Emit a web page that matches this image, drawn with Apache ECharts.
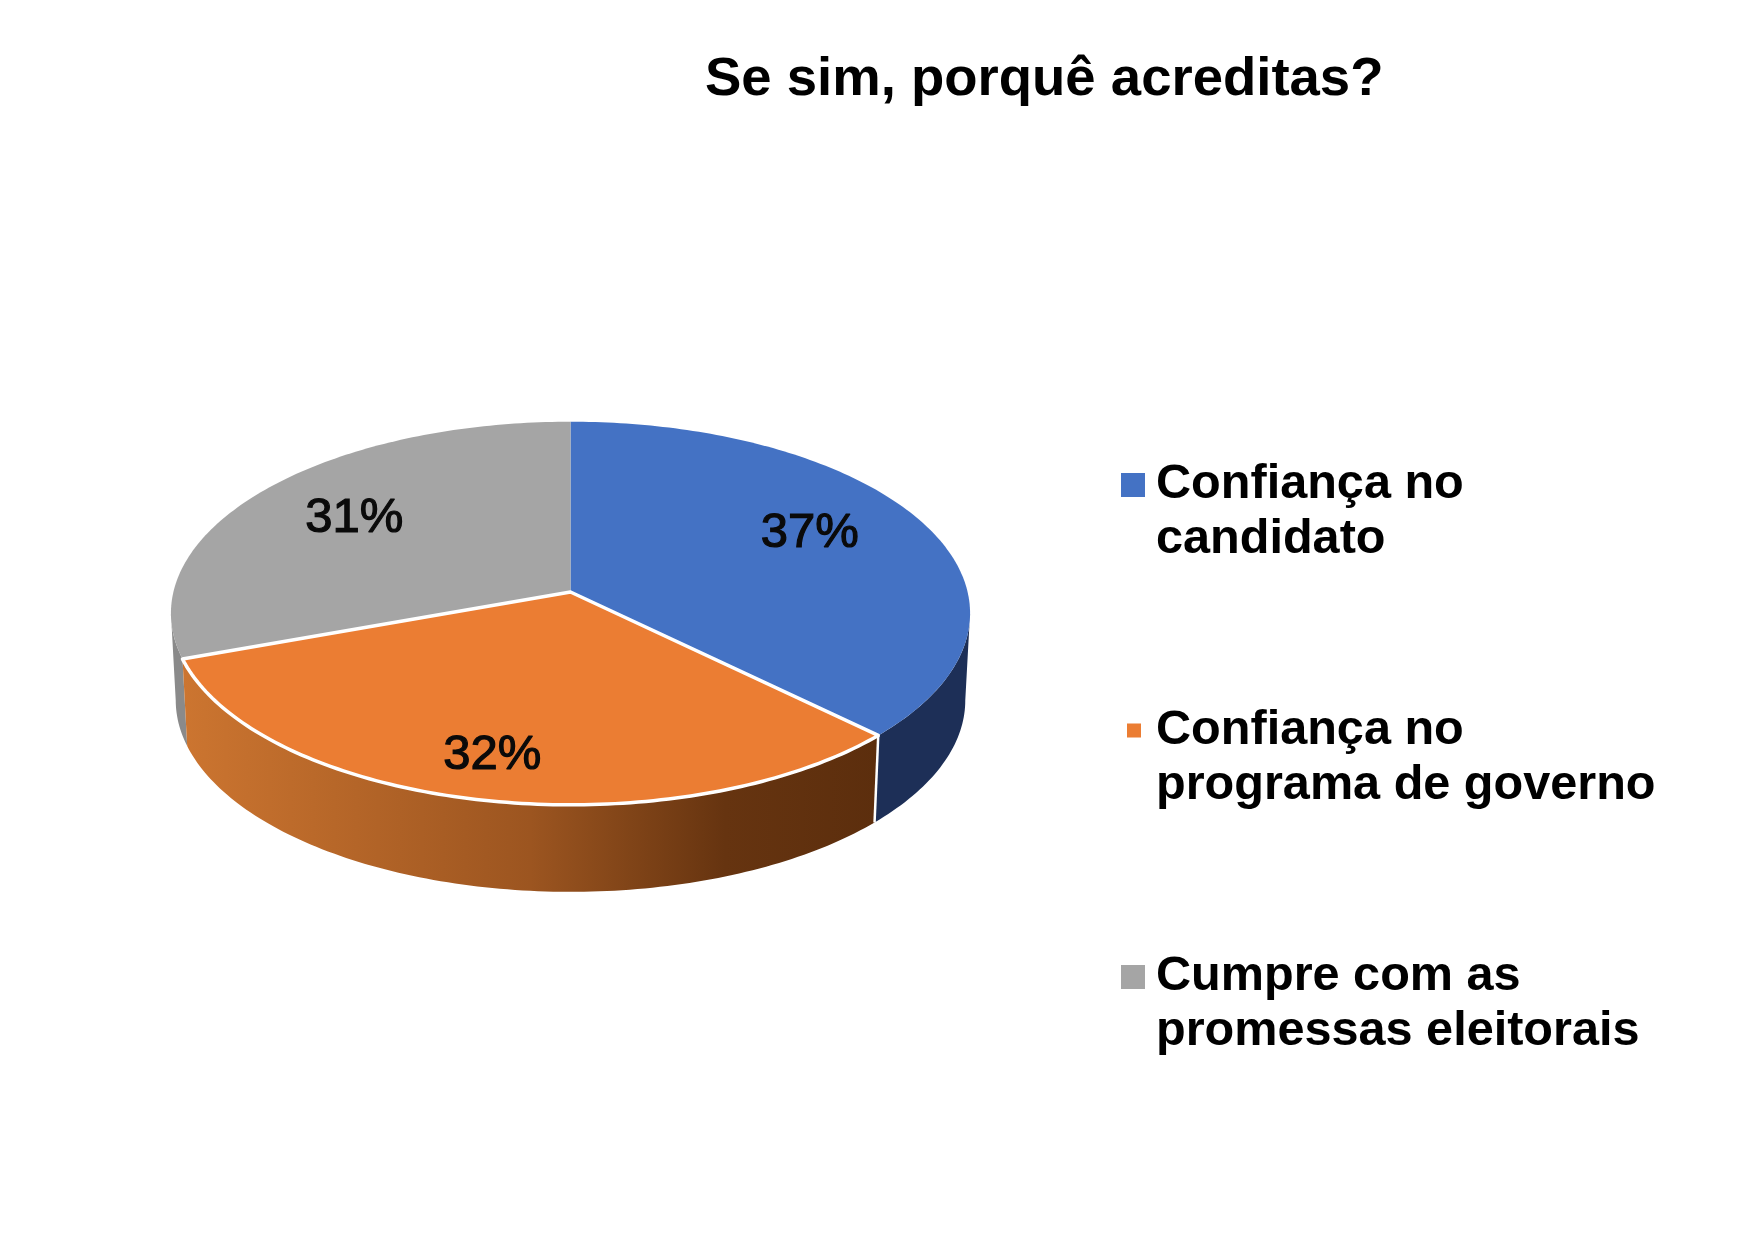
<!DOCTYPE html>
<html>
<head>
<meta charset="utf-8">
<title>Se sim, porquê acreditas?</title>
<script src="https://cdn.jsdelivr.net/npm/echarts@6/dist/echarts.min.js"></script>
<style>
  html, body { margin: 0; background: #fff; }
  #chart { width: 1749px; height: 1241px; }
</style>
</head>
<body>
<div id="chart"></div>
<script>
const chartTitle = 'Se sim, porquê acreditas?';
const categories = ['Confiança no\ncandidato', 'Confiança no\nprograma de governo', 'Cumpre com as\npromessas eleitorais'];
// read from the slice edges, the labels show them rounded
const percentValues = [37.4, 32.2, 30.6];

const topColors = ['#4472C4', '#EB7D33', '#A5A5A5'];
const wallColors = [
  '#1D2F57',
  [[0, '#CC7530'], [0.5, '#9C5520'], [0.78, '#663410'], [1, '#5C2E0D']],
  '#8A8A8A'
];
const fontName = '"Liberation Sans", Arial, sans-serif';

// the pie is a circle seen in perspective, so it is not centred on its ellipse
const pie = { x: 570.5, y: 592, r: 397.1, ry: 189.2, k: 0.111, depth: 87, bottomScale: 0.988 };
// where each percent sits, as a share of the rim point at the mid angle
const labelPull = [[0.682, 0.83], [0.83, 0.79], [0.707, 0.72]];
const legendBoxes = [
  { left: 1121, top: 457.5, size: 24, width: 30 },
  { left: 1127, top: 703, size: 14, width: 24 },
  { left: 1121, top: 949.5, size: 24, width: 30 }
];
const lineHeight = 55;

const total = percentValues.reduce((a, b) => a + b, 0);
// angles where the rim turns back, only the wall between them can be seen
const wallFrom = Math.acos(-pie.k) * 180 / Math.PI;
const wallTo = 360 - wallFrom;

function project(deg, scale, drop) {
  const t = deg * Math.PI / 180;
  const d = 1 + pie.k * Math.cos(t);
  return [
    pie.x + scale * pie.r * Math.sin(t) / d,
    pie.y - pie.ry * Math.cos(t) / d + drop
  ];
}

function rim(from, to, scale, drop) {
  const pts = [];
  const n = Math.ceil(Math.abs(to - from));
  for (let i = 0; i <= n; i++) {
    pts.push(project(from + (to - from) * i / n, scale, drop));
  }
  return pts;
}

function renderSlice(i, api) {
  const before = percentValues.slice(0, i).reduce((a, b) => a + b, 0);
  const from = before / total * 360;
  const to = from + api.value(0) / total * 360;
  const isOrange = i === 1;

  const top = rim(from, to, 1, 0);
  const wallStart = Math.max(from, wallFrom);
  const wallEnd = Math.min(to, wallTo);
  const wallTop = rim(wallStart, wallEnd, 1, 0);
  const wallBottom = rim(wallEnd, wallStart, pie.bottomScale, pie.depth);
  const wallFill = Array.isArray(wallColors[i])
    ? new echarts.graphic.LinearGradient(0, 0, 1, 0, wallColors[i].map(s => ({ offset: s[0], color: s[1] })))
    : wallColors[i];

  const children = [{
    type: 'polygon',
    z2: isOrange ? 2 : 1,
    shape: { points: wallTop.concat(wallBottom) },
    style: { fill: wallFill }
  }, {
    type: 'polygon',
    z2: isOrange ? 4 : 3,
    shape: { points: [[pie.x, pie.y]].concat(top) },
    style: isOrange
      ? { fill: topColors[i], stroke: '#fff', lineWidth: 3.5, lineJoin: 'round' }
      : { fill: topColors[i] }
  }];

  if (isOrange) {
    // white edge down the wall, next to the blue slice
    const edgeBottom = wallBottom[wallBottom.length - 1];
    children.push({
      type: 'line',
      z2: 3,
      shape: { x1: wallTop[0][0], y1: wallTop[0][1], x2: edgeBottom[0], y2: edgeBottom[1] },
      style: { stroke: '#fff', lineWidth: 2.5 }
    });
  }

  const mid = project((from + to) / 2, 1, 0);
  children.push({
    type: 'text',
    z2: 5,
    style: {
      text: Math.round(api.value(0)) + '%',
      x: pie.x + (mid[0] - pie.x) * labelPull[i][0],
      y: pie.y + (mid[1] - pie.y) * labelPull[i][1],
      align: 'center',
      verticalAlign: 'middle',
      fill: '#0A0A0A',
      font: '49px ' + fontName,
      stroke: '#0A0A0A',
      lineWidth: 1.2
    }
  });

  return { type: 'group', children: children };
}

// the spare corner of the icon keeps the square level with the first text line
function legendIcon(box) {
  const h = box.size + lineHeight;
  return 'path://M0,0H' + box.size + 'V' + box.size + 'H0Z M' + box.width + ',' + h + 'L' + box.width + ',' + h;
}

const chart = echarts.init(document.getElementById('chart'));
chart.setOption({
  backgroundColor: '#fff',
  animation: false,
  title: {
    text: chartTitle,
    left: 700,
    top: 47,
    textStyle: { fontFamily: fontName, fontWeight: 'bold', fontSize: 54.5, color: '#000' }
  },
  legend: categories.map((name, i) => ({
    left: legendBoxes[i].left,
    top: legendBoxes[i].top,
    padding: 0,
    selectedMode: false,
    itemWidth: legendBoxes[i].width,
    itemHeight: legendBoxes[i].size + lineHeight,
    data: [{ name: name, icon: legendIcon(legendBoxes[i]) }],
    textStyle: { fontFamily: fontName, fontWeight: 'bold', fontSize: 48.6, lineHeight: lineHeight, color: '#000' }
  })),
  series: categories.map((name, i) => ({
    type: 'custom',
    name: name,
    coordinateSystem: 'none',
    silent: true,
    itemStyle: { color: topColors[i] },
    data: [percentValues[i]],
    renderItem: (params, api) => renderSlice(i, api)
  }))
});
</script>
</body>
</html>
